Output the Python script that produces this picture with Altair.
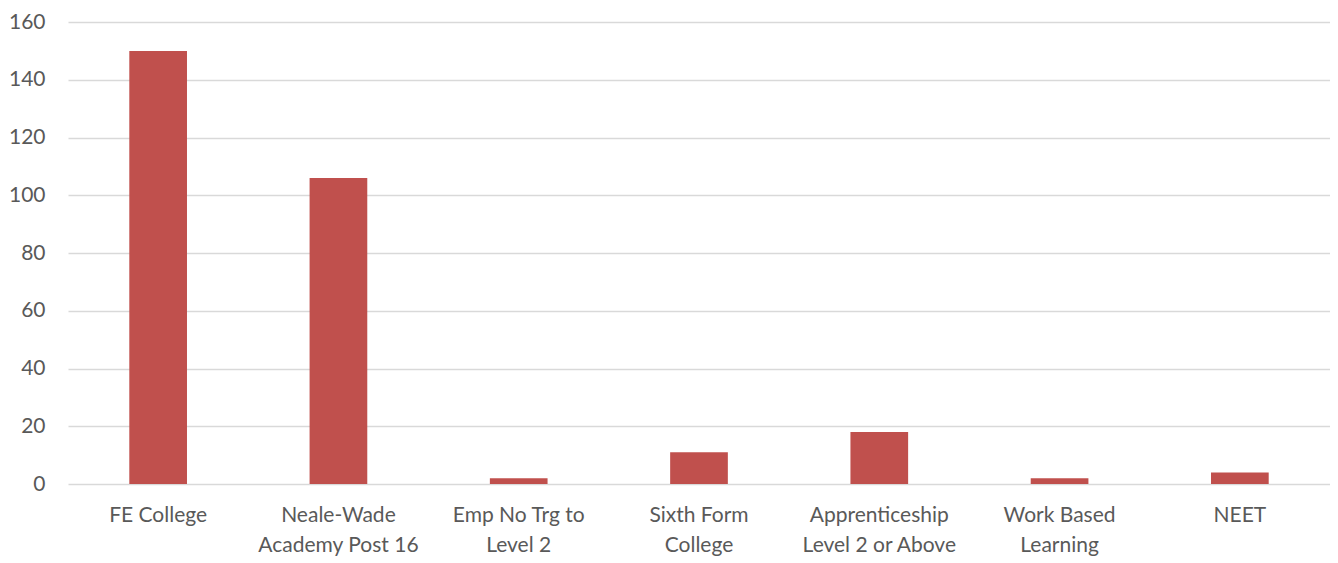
import altair as alt
import pandas as pd

categories = ["FE College", "Neale-Wade|Academy Post 16", "Emp No Trg to|Level 2",
              "Sixth Form|College", "Apprenticeship|Level 2 or Above",
              "Work Based|Learning", "NEET"]
values = [150, 106, 2, 11, 18, 2, 4]

df = pd.DataFrame({"category": categories, "value": values})

FONT = "Lato"

chart = alt.Chart(df).mark_bar(color="#C0504D").encode(
    x=alt.X("category:N", sort=categories, title=None,
            scale=alt.Scale(paddingInner=0.68, paddingOuter=0.34),
            axis=alt.Axis(labelAngle=0, labelExpr="split(datum.label, '|')",
                          labelLineHeight=30, labelPadding=20, ticks=False,
                          domain=False, labelFontSize=21, labelColor="#595959",
                          labelFont=FONT, labelBaseline="top")),
    y=alt.Y("value:Q", title=None,
            scale=alt.Scale(domain=[0, 160]),
            axis=alt.Axis(values=[0, 20, 40, 60, 80, 100, 120, 140, 160],
                          ticks=False, domain=False, labelPadding=23,
                          labelFontSize=21, labelColor="#595959",
                          labelFont=FONT, gridColor="#D9D9D9",
                          gridWidth=1.5)),
).properties(
    width=1262, height=462,
    autosize=alt.AutoSizeParams(type="none"),
    padding={"left": 60, "top": 14, "right": 0, "bottom": 79}
).configure_view(stroke=None).configure_axisX(grid=False)

chart.save("out.html", embed_options={"renderer": "svg", "actions": False})
